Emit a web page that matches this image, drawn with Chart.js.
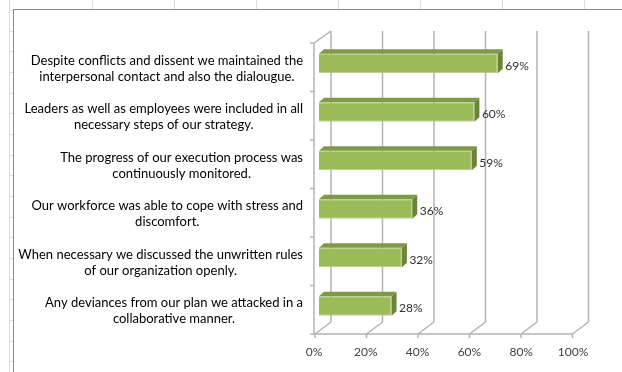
<!DOCTYPE html>
<html><head><meta charset="utf-8">
<script src="https://cdn.jsdelivr.net/npm/chart.js@4"></script>
<style>
html,body{margin:0;padding:0;width:622px;height:372px;overflow:hidden;background:#fff;}
.gl{position:absolute;background:#dcdcdc;}
#box{position:absolute;left:13px;top:9px;width:640px;height:400px;border:1px solid #8a8a8a;background:#fff;}
#c{position:absolute;left:0;top:0;}
</style></head>
<body>
<div id="sheet"></div>
<div id="box"></div>
<canvas id="c" width="622" height="372"></canvas>
<script>
const categories = [
  ["Despite conflicts and dissent we maintained the", "interpersonal contact and also the dialougue."],
  ["Leaders as well as employees were included in all", "necessary steps of our strategy."],
  ["The progress of our execution process was", "continuously monitored."],
  ["Our workforce was able to cope with stress and", "discomfort."],
  ["When necessary we discussed the unwritten rules", "of our organization openly."],
  ["Any deviances from our plan we attacked in a", "collaborative manner."]
];
const values = [0.69, 0.60, 0.59, 0.36, 0.32, 0.28];
const valueLabels = ["69%", "60%", "59%", "36%", "32%", "28%"];
const tickLabels = ["0%", "20%", "40%", "60%", "80%", "100%"];

// spreadsheet gridlines outside the chart
(function(){
  const s = document.getElementById('sheet');
  const add = (l,t,w,h)=>{const d=document.createElement('div');d.className='gl';d.style.cssText=`left:${l}px;top:${t}px;width:${w}px;height:${h}px`;s.appendChild(d);};
  add(9,0,1,372);
  for(let x=92;x<622;x+=82) add(x,0,1,9);
  for(let k=0;k<18;k++){ add(9, Math.round(10+20.67*k), 4, 1); }
})();

const DX = 16, DY = -12, BOFF = 3.75, BDX = 5, BDY = -4.5;
const fx = (xs, v) => xs.getPixelForValue(v) - 4 - 1.5 * v;

const frame3d = {
  id: 'frame3d',
  beforeDatasetsDraw(chart) {
    const ctx = chart.ctx, xs = chart.scales.x, ys = chart.scales.y;
    const fTop = ys.top + BOFF, fBot = ys.bottom + BOFF;
    ctx.save();
    ctx.strokeStyle = '#b3b3b3';
    ctx.lineWidth = 1.5;
    const line = (a,b,c,d)=>{ctx.beginPath();ctx.moveTo(a,b);ctx.lineTo(c,d);ctx.stroke();};
    xs.ticks.forEach(t => {
      const f = fx(xs, t.value), b = f + DX;
      line(b, fTop + DY, b, fBot + DY);
      line(f, fBot, b, fBot + DY);
      line(f, fBot, f, fBot + 4);
    });
    const x0 = fx(xs, 0) - 1;
    line(x0, fBot, fx(xs, 1), fBot);
    line(x0, fTop, x0, fBot);
    line(x0, fTop, fx(xs, 0) + DX, fTop + DY);
    for (let i = 0; i <= categories.length; i++) {
      const y = fTop + i * (fBot - fTop) / categories.length;
      line(x0 - 4, y, x0, y);
    }
    ctx.restore();
  },
  afterDatasetsDraw(chart) {
    const ctx = chart.ctx;
    const meta = chart.getDatasetMeta(0);
    ctx.save();
    meta.data.forEach((el, i) => {
      const top = el.y - el.height / 2, bot = el.y + el.height / 2, L = el.base, R = el.x;
      ctx.fillStyle = '#7e9a46';
      ctx.beginPath();
      ctx.moveTo(L, top); ctx.lineTo(R, top); ctx.lineTo(R + BDX, top + BDY); ctx.lineTo(L + BDX, top + BDY); ctx.closePath(); ctx.fill();
      ctx.fillStyle = '#6a8536';
      ctx.beginPath();
      ctx.moveTo(R, top); ctx.lineTo(R + BDX, top + BDY); ctx.lineTo(R + BDX, bot + BDY); ctx.lineTo(R, bot); ctx.closePath(); ctx.fill();
      ctx.fillStyle = '#303030';
      ctx.font = '12px Lato';
      ctx.textAlign = 'left';
      ctx.textBaseline = 'middle';
      ctx.fillText(valueLabels[i], R + 7.5, el.y + 2.5);
    });
    ctx.restore();
  },
  afterDraw(chart) {
    const ctx = chart.ctx, xs = chart.scales.x, ys = chart.scales.y;
    const right = fx(xs, 0) - 12;
    ctx.save();
    ctx.font = '13px Lato';
    ctx.fillStyle = '#000';
    ctx.textAlign = 'center';
    ctx.textBaseline = 'middle';
    categories.forEach((lines, i) => {
      const yc = ys.getPixelForValue(i) + BOFF + 1.5;
      const W = Math.max(...lines.map(l => ctx.measureText(l).width));
      const cx = right - W / 2;
      lines.forEach((l, k) => ctx.fillText(l, cx, yc + (k - (lines.length - 1) / 2) * 16));
    });
    ctx.restore();
  }
};

new Chart(document.getElementById('c'), {
  type: 'bar',
  data: {
    labels: categories,
    datasets: [{
      data: values,
      backgroundColor: '#9bbb59',
      borderColor: '#b7cd8c',
      borderWidth: 1,
      barPercentage: 0.5,
      categoryPercentage: 0.8
    }]
  },
  options: {
    indexAxis: 'y',
    responsive: false,
    animation: false,
    devicePixelRatio: 1,
    layout: { padding: { left: 319, right: 44, top: 39.25, bottom: 13.55 } },
    plugins: { legend: { display: false }, tooltip: { enabled: false } },
    scales: {
      y: { type: 'category', display: false, offset: true, grid: { display: false } },
      x: {
        type: 'linear', min: 0, max: 1,
        grid: { display: false, drawTicks: false },
        border: { display: false },
        afterFit: (s) => { s.height = 28.2; },
        ticks: {
          stepSize: 0.2, padding: 15, labelOffset: -5, color: '#404040',
          font: { family: 'Lato', size: 12 },
          callback: (v, i) => tickLabels[i]
        }
      }
    }
  },
  plugins: [frame3d]
});
</script>
</body></html>
